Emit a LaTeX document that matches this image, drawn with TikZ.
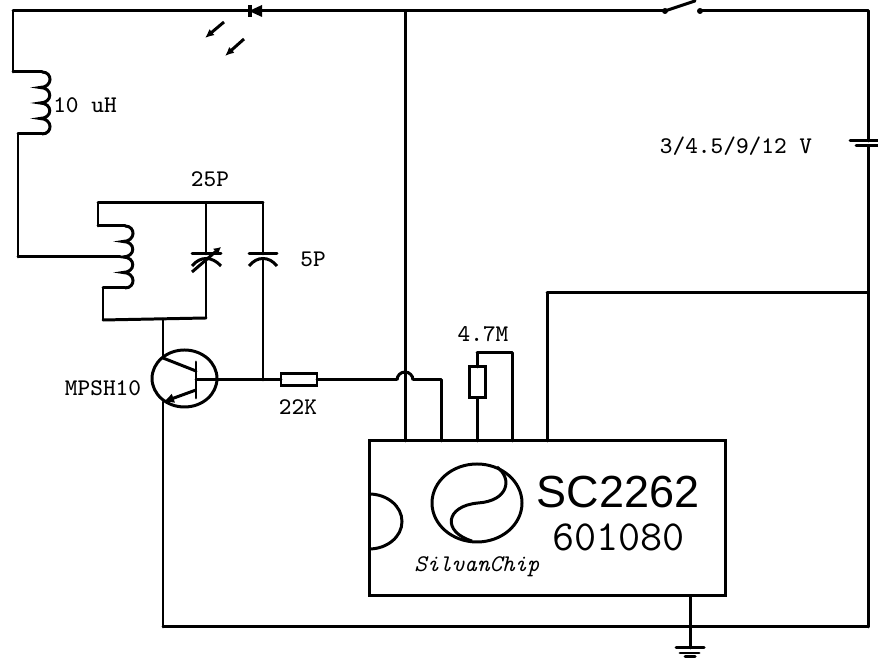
\documentclass[tikz,border=0pt]{standalone}
\usepackage{tikz}
\usepackage{tkz-euclide}
\usepackage{fontspec}
\usepackage{xcolor}
\usetikzlibrary{arrows.meta}
\newfontfamily\chipfont{Liberation Sans}
\tikzset{
	wire/.style={line width=0.85pt,line join=miter},
	lbl/.style={inner sep=0pt,font=\fontsize{6.8}{8}\ttfamily},
	coil/.pic={\draw[wire] (0,0)
		.. controls (0.11,0) and (0.11,-0.155) .. (-0.02,-0.155)
		.. controls (0.11,-0.155) and (0.11,-0.31) .. (-0.02,-0.31)
		.. controls (0.11,-0.31) and (0.11,-0.465) .. (-0.02,-0.465)
		.. controls (0.11,-0.465) and (0.11,-0.62) .. (0,-0.62);}
}
\begin{document}
\begin{tikzpicture}
	\useasboundingbox (0,0) rectangle (8.78,6.59);
	\tkzDefPoints{0.13/6.48/A,0.13/5.87/B,0.42/5.87/L_a,0.42/5.25/L_b,0.18/5.25/C,0.18/4.02/D,1.20/4.02/E}
	\tkzDefPoints{2.49/6.48/D_a,2.62/6.48/D_b,4.05/6.48/F,6.65/6.48/S_a,7.00/6.48/S_b,6.95/6.58/S_c,8.68/6.48/G}
	\tkzDefPoints{8.68/5.18/B_a,8.68/5.13/B_b,8.50/5.18/B_c,8.78/5.18/B_d,8.56/5.13/B_e,8.78/5.13/B_f}
	\tkzDefPoints{8.68/3.66/H,5.47/3.66/I,5.47/2.18/P_e,8.68/0.32/J,1.63/0.32/K,6.90/0.32/M}
	\tkzDefPoints{0.98/4.56/N,0.98/4.33/N_a,1.25/4.33/T_a,1.25/3.71/T_b,1.03/3.71/N_b,1.03/3.39/N_c,2.06/3.41/N_d}
	\tkzDefPoints{2.06/4.56/V_a,2.06/4.05/V_b,2.06/4.00/V_c,1.92/4.05/V_d,2.21/4.05/V_e}
	\tkzDefPoints{2.63/4.56/W_a,2.63/4.05/W_b,2.63/4.00/W_c,2.49/4.05/W_d,2.77/4.05/W_e,2.63/2.79/W_f}
	\tkzDefPoints{1.63/3.40/Q_a,1.63/3.01/Q_c,1.63/2.57/Q_e,1.96/2.97/Q_t,1.96/2.61/Q_b,1.96/2.88/Q_f,1.96/2.69/Q_g,1.96/2.79/Q_h}
	\tkzDefPoints{2.81/2.79/R_a,3.17/2.79/R_b,3.97/2.79/X_a,4.13/2.79/X_b,4.41/2.79/X_c,4.41/2.18/P_b,4.05/2.18/P_a}
	\tkzDefPoints{4.77/2.18/P_c,4.77/2.61/R_c,4.77/2.92/R_d,4.77/3.06/Y_a,5.12/3.06/Y_b,5.12/2.18/P_d}
	\tkzDefPoints{6.90/0.63/Z,6.90/0.11/Z_a,6.76/0.11/Z_b,7.04/0.11/Z_c,6.80/0.06/Z_d,6.99/0.06/Z_e,6.85/0.02/Z_f,6.95/0.02/Z_g}
	\tkzDefPoints{2.24/6.37/O_a,2.05/6.21/O_b,2.44/6.20/O_c,2.25/6.03/O_d}
	\tkzDrawSegments[wire](A,B B,L_a L_b,C C,D D,E A,D_a D_b,S_a S_b,G G,B_a B_b,J J,K K,Q_e H,I I,P_e)
	\tkzDrawSegments[wire](F,P_a R_b,X_a X_b,X_c X_c,P_b M,Z Z,Z_a Z_b,Z_c Z_d,Z_e Z_f,Z_g B_c,B_d B_e,B_f S_a,S_c)
	\tkzDrawSegments[wire](N,W_a N,N_a N_a,T_a T_b,N_b N_b,N_c N_c,N_d V_a,V_b V_c,N_d V_d,V_e)
	\tkzDrawSegments[wire](W_a,W_b W_c,W_f W_d,W_e Q_a,Q_c Q_c,Q_f Q_t,Q_b Q_h,R_a)
	\tkzDrawSegments[wire](P_c,R_c R_d,Y_a Y_a,Y_b Y_b,P_d)
	\draw[wire] (1.92,3.93) .. controls (2.00,4.03) and (2.12,4.03) .. (2.21,3.93);
	\draw[wire] (2.49,3.93) .. controls (2.57,4.03) and (2.69,4.03) .. (2.77,3.93);
	\draw[wire,-{Latex[length=0.7mm,width=0.8mm]}] (1.92,3.87) -- (2.21,4.12);
	\draw[wire,-{Latex[length=1.1mm,width=1mm]}] (Q_g) -- (Q_e);
	\draw[wire,-{Latex[length=0.9mm,width=0.8mm]}] (O_a) -- (O_b);
	\draw[wire,-{Latex[length=0.9mm,width=0.8mm]}] (O_c) -- (O_d);
	\draw[wire] (X_a) arc (180:0:0.08);
	\pic at (L_a) {coil};
	\pic at (T_a) {coil};
	\fill (D_a) -- (D_b |- 0,6.54) -- (D_b |- 0,6.42) -- cycle;
	\draw[line width=1.1pt] (2.50,6.54) -- (2.50,6.42);
	\fill (S_a) circle (0.03) (S_b) circle (0.03);
	\draw[wire] (1.845,2.805) ellipse (0.325 and 0.285);
	\draw[wire] (2.81,2.73) rectangle (3.17,2.85);
	\draw[wire] (4.69,2.61) rectangle (4.85,2.92);
	\draw[wire] (3.69,0.63) rectangle (7.25,2.18);
	\draw[wire] (3.69,1.65) arc (90:-90:0.33 and 0.275);
	\draw[wire] (4.77,1.56) ellipse (0.45 and 0.39);
	\draw[wire] (4.97,1.92) .. controls (5.13,1.80) and (5.08,1.58) .. (4.78,1.56)
		.. controls (4.45,1.53) and (4.42,1.27) .. (4.72,1.18);
	\node[lbl] (lblL) at (0.85,5.54) {10 uH};
	\node[lbl] (lblC) at (2.10,4.80) {25P};
	\node[lbl] (lblD) at (3.13,4.00) {5P};
	\node[lbl] (lblQ) at (1.03,2.71) {MPSH10};
	\node[lbl] (lblR) at (2.98,2.52) {22K};
	\node[lbl] (lblM) at (4.83,3.25) {4.7M};
	\node[lbl] (lblV) at (7.36,5.13) {3/4.5/9/12 V};
	\node[inner sep=0pt,font=\fontsize{12.8}{14}\chipfont] (lblU) at (6.18,1.67) {SC2262};
	\node[inner sep=0pt,font=\fontsize{12.2}{14}\ttfamily] (lblN) at (6.185,1.22) {601080};
	\node[lbl,font=\fontsize{6.8}{8}\ttfamily\itshape] (lblS) at (4.77,0.92) {SilvanChip};
\end{tikzpicture}
\end{document}
